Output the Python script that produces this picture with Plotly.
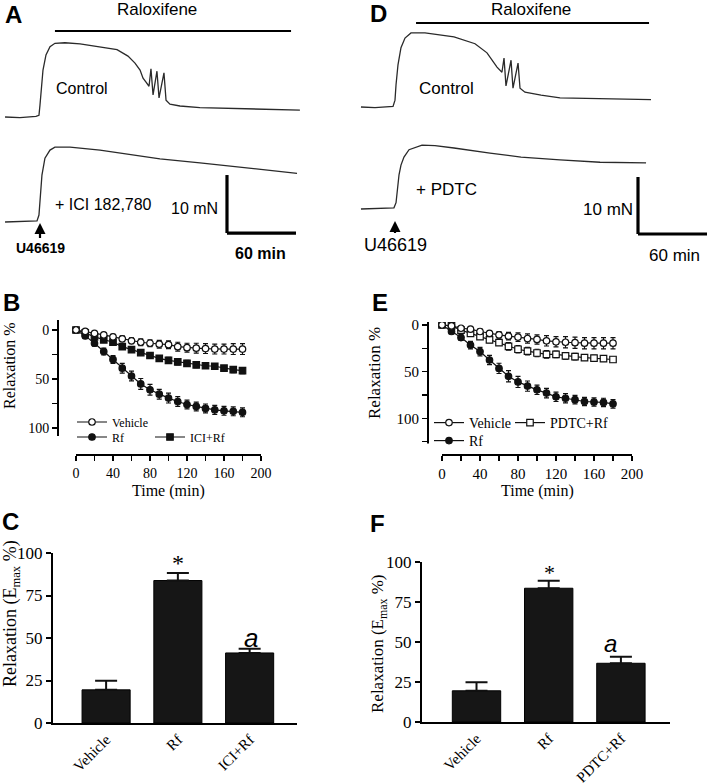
import plotly.graph_objects as go

W, H = 709, 784
def PX(x): return x / W
def PY(y): return 1 - y / H

SERIF = "Liberation Serif"
SANS = "Liberation Sans"
BLACK = "#111111"

# ---------------- Panel A / D : isometric tension recordings ----------------
# time (min, relative to U46619 addition) and tension above baseline (mN)
ctrlA_t = [-30.4, -17.4, -3.5, -0.9, 0, 0.9, 2.6, 5.2, 8.7, 13, 21.7, 34.8, 52.2, 67, 76.5, 82.6,
           87, 89.6, 92.2, 94.8, 96.5, 98.3, 101.7, 103.5, 107.8, 109.6, 113, 121.7, 139, 174, 226]
ctrlA_f = [0, -0.1, 0.1, 0.3, 2.1, 4.7, 8.1, 10.7, 12.1, 12.7, 12.8, 12.6, 12.1, 11.6, 10.5, 9.3,
           8.1, 6.7, 6.0, 5.3, 8.3, 3.8, 7.9, 3.3, 7.6, 2.9, 2.2, 1.9, 1.6, 1.4, 1.2]
iciA_t = [-30.4, -17.4, -2.6, -0.9, 0, 1.7, 4.3, 8.7, 13, 26.1, 52.2, 78.3, 104.3, 139.1, 174, 200, 223.5]
iciA_f = [0, 0.1, 0.2, 1.2, 3.8, 8.1, 11.0, 12.4, 12.9, 12.9, 12.4, 11.7, 10.9, 10.2, 9.5, 9.0, 8.4]

ctrlD_t = [-29.6, -17.4, -1.7, 0, 0.9, 2.6, 5.2, 8.7, 13.9, 26.1, 51.3, 69.6, 80, 85.2, 88.7, 93,
           94.8, 96.5, 100.9, 102.6, 107, 108.7, 113, 127, 143.5, 222.6]
ctrlD_f = [0, -0.1, 0.1, 1.2, 3.9, 7.4, 10.4, 12.1, 13.0, 13.0, 12.3, 11.1, 9.5, 7.9, 7.0, 6.1,
           8.6, 3.7, 8.2, 3.3, 7.7, 3.3, 2.6, 2.1, 1.6, 1.3]
pdtcD_t = [-29.6, -13, -0.9, 0.9, 1.7, 3.5, 5.2, 7.8, 12.2, 18.3, 23.5, 34.8, 51.3, 82.6, 109.6, 143.5, 178.3, 218.3]
pdtcD_f = [0, 0.1, 0.2, 1.1, 2.8, 6.0, 7.7, 9.1, 10.4, 10.9, 11.2, 11.1, 10.7, 9.8, 9.1, 8.6, 8.2, 8.1]

# ---------------- Panel B / E : time course of relaxation ----------------
time_min = [0, 10, 20, 30, 40, 50, 60, 70, 80, 90, 100, 110, 120, 130, 140, 150, 160, 170, 180]

B_veh = [0, 1.5, 3.5, 5, 7, 9, 11, 12.5, 13.5, 14.5, 15, 17, 18, 18.5, 19, 19.5, 19.5, 19.5, 19.5]
B_veh_err = [0, 1, 1.5, 2, 2.5, 3, 3, 3.5, 3.5, 4, 4, 4.5, 4.5, 5, 5, 5, 5, 5.5, 5.5]
B_rf = [0, 6, 13.5, 22, 30, 39, 47, 55, 61, 65.5, 69.5, 73, 76, 78, 80, 81.5, 82.5, 83, 84]
B_rf_err = [0, 1.5, 3, 3.5, 4, 5, 5, 5.5, 5.5, 5, 5, 5, 4.5, 4.5, 4.5, 4.5, 4.5, 4.5, 4.5]
B_ici = [0, 3, 7, 10, 12.5, 17, 20, 23, 26, 29, 31, 32.5, 34, 35.5, 36.5, 37, 39, 40.5, 41.5]
B_ici_err = [0, 1, 1.5, 2, 2, 2.5, 2.5, 2.5, 3, 3, 3, 3, 3, 3, 2.5, 2.5, 2.5, 3, 3]

E_veh = [0, 1, 3.5, 4.5, 7, 9, 10.5, 12, 13, 14.5, 15.5, 17, 18, 18.5, 19, 19.5, 19.5, 19.5, 19.5]
E_veh_err = [0, 1, 1.5, 2, 2.5, 3, 3.5, 4, 4.5, 5, 5, 5.5, 5.5, 6, 6, 6, 6, 6, 6]
E_pdtc = [0, 1, 5.5, 9, 12.5, 16, 19, 23, 26, 28, 30, 31.5, 31.5, 33, 34, 35, 35.5, 36, 37]
E_pdtc_err = [0, 1, 1.5, 2, 2.5, 3, 3, 4, 4, 4, 4, 4, 3.5, 3.5, 3.5, 3, 3, 3, 3]
E_rf = [0, 7, 13.5, 21.5, 28.5, 37.5, 46.5, 55, 61, 65.5, 69.5, 73, 77, 78.5, 80, 82, 82.5, 83, 84.5]
E_rf_err = [0, 1.5, 3, 4, 4.5, 5, 5.5, 6, 6, 5.5, 5, 5, 5, 5, 4.5, 4.5, 4.5, 4.5, 4.5]

# ---------------- Panel C / F : Emax ----------------
C_cats = ["Vehicle", "Rf", "ICI+Rf"]
C_vals = [19.5, 83.8, 41.2]
C_err = [5.3, 4.4, 2.5]
F_cats = ["Vehicle", "Rf", "PDTC+Rf"]
F_vals = [19.5, 83.6, 36.7]
F_err = [5.3, 4.7, 4.1]

time_major = [0, 40, 80, 120, 160, 200]
time_minor = [20, 60, 100, 140, 180]

fig = go.Figure()

trace_line = dict(color="#2a2a2a", width=1.3)
for t, f, xa, ya in [(ctrlA_t, ctrlA_f, "x", "y"), (iciA_t, iciA_f, "x", "y2"),
                     (ctrlD_t, ctrlD_f, "x2", "y3"), (pdtcD_t, pdtcD_f, "x2", "y4")]:
    fig.add_trace(go.Scatter(x=t, y=f, xaxis=xa, yaxis=ya, mode="lines", line=trace_line,
                             showlegend=False, hoverinfo="skip"))

def series(name, y, err, xa, ya, symbol, fill, legend):
    fig.add_trace(go.Scatter(
        x=time_min, y=y, name=name, xaxis=xa, yaxis=ya, mode="lines+markers",
        line=dict(color=BLACK, width=1.2),
        marker=dict(symbol=symbol, size=6.5, color=fill, line=dict(color=BLACK, width=1.2)),
        error_y=dict(type="data", array=err, color=BLACK, thickness=1.2, width=2.5),
        legend=legend, showlegend=True))

series("ICI+Rf", B_ici, B_ici_err, "x3", "y5", "square", BLACK, "legend3")
series("Rf", B_rf, B_rf_err, "x3", "y5", "circle", BLACK, "legend2")
series("Vehicle", B_veh, B_veh_err, "x3", "y5", "circle", "white", "legend")

series("PDTC+Rf", E_pdtc, E_pdtc_err, "x4", "y6", "square", "white", "legend5")
series("Rf", E_rf, E_rf_err, "x4", "y6", "circle", BLACK, "legend6")
series("Vehicle", E_veh, E_veh_err, "x4", "y6", "circle", "white", "legend4")

for cats, vals, err, xa, ya in [(C_cats, C_vals, C_err, "x5", "y7"), (F_cats, F_vals, F_err, "x6", "y8")]:
    fig.add_trace(go.Bar(x=cats, y=vals, xaxis=xa, yaxis=ya, width=0.67,
                         marker=dict(color="#161616", line=dict(color="#000", width=1)),
                         error_y=dict(type="data", symmetric=False, array=err, arrayminus=[0] * len(err),
                                      color=BLACK, thickness=2, width=11),
                         showlegend=False, hoverinfo="skip"))

hidden = dict(visible=False, showgrid=False, zeroline=False, automargin=False)
serif_tick = lambda s: dict(family=SERIF, size=s, color="black")

layout = dict(
    width=W, height=H, margin=dict(l=0, r=0, t=0, b=0, pad=0, autoexpand=False),
    paper_bgcolor="white", plot_bgcolor="rgba(0,0,0,0)", showlegend=True, bargap=0,
    hovermode=False,
    xaxis=dict(domain=[0, PX(354)], range=[-34.78, 273.04], anchor="y", **hidden),
    yaxis=dict(domain=[PY(130), PY(25)], range=[-2.24, 15.86], anchor="x", **hidden),
    yaxis2=dict(domain=[PY(240), PY(140)], range=[-3.10, 14.14], anchor="x", **hidden),
    xaxis2=dict(domain=[PX(354), 1], range=[-35.65, 273.04], anchor="y3", **hidden),
    yaxis3=dict(domain=[PY(125), PY(15)], range=[-3.16, 16.14], anchor="x2", **hidden),
    yaxis4=dict(domain=[PY(245), PY(135)], range=[-6.32, 12.98], anchor="x2", **hidden),
)

tick_common = dict(ticks="outside", ticklen=5, tickwidth=1.5, tickcolor="black")

def time_axes(xdom, xr, ydom, yr, xanchor, yanchor, yt, ym, fs):
    xa = dict(domain=xdom, range=xr, anchor=yanchor, showline=False, zeroline=False, showgrid=False,
              automargin=False, tickmode="array", tickvals=time_major, tickfont=serif_tick(fs),
              minor=dict(tickmode="array", tickvals=time_minor, showgrid=False, **tick_common),
              **tick_common)
    ya = dict(domain=ydom, range=yr, anchor=xanchor, showline=False, zeroline=False, showgrid=False,
              automargin=False, tickmode="array", tickvals=yt, tickfont=serif_tick(fs),
              minor=dict(tickmode="array", tickvals=ym, showgrid=False, **tick_common),
              **tick_common)
    return xa, ya

layout["xaxis3"], layout["yaxis5"] = time_axes([PX(58), PX(261)], [-19.46, 200], [PY(455), PY(320)],
                                                [127.55, -10.2], "x3", "y5", [0, 50, 100], [25, 75], 14)
layout["xaxis4"], layout["yaxis6"] = time_axes([PX(428), PX(632)], [-14.74, 200], [PY(455), PY(322)],
                                                [139.3, -3.2], "x4", "y6", [0, 50, 100], [25, 75, 125], 15)

def bar_axes(xdom, xr, ydom, xanchor, yanchor, fs_x, fs_y):
    xa = dict(domain=xdom, range=xr, anchor=yanchor, showline=True, linecolor="black", linewidth=2,
              ticks="", tickangle=-45, tickfont=serif_tick(fs_x), showgrid=False, zeroline=False,
              automargin=False)
    ya = dict(domain=ydom, range=[0, 100], anchor=xanchor, showline=True, linecolor="black", linewidth=2,
              ticks="outside", ticklen=5, tickwidth=2, tickcolor="black", tickmode="array",
              tickvals=[0, 25, 50, 75, 100], tickfont=serif_tick(fs_y), showgrid=False, zeroline=False,
              automargin=False)
    return xa, ya

layout["xaxis5"], layout["yaxis7"] = bar_axes([PX(53), PX(297)], [-0.74, 2.66], [PY(723), PY(553)], "x5", "y7", 15, 17)
layout["xaxis6"], layout["yaxis8"] = bar_axes([PX(422), PX(670)], [-0.755, 2.68], [PY(722), PY(562)], "x6", "y8", 15, 17)

def leg(x, y, fs):
    return dict(x=PX(x), y=PY(y), xanchor="left", yanchor="middle", bgcolor="rgba(0,0,0,0)",
                borderwidth=0, font=dict(family=SERIF, size=fs, color="black"), itemwidth=30,
                tracegroupgap=0)

layout["legend"] = leg(72, 422, 12)
layout["legend2"] = leg(72, 437, 12)
layout["legend3"] = leg(150, 437, 12)
layout["legend4"] = leg(429, 423, 14)
layout["legend5"] = leg(510, 423, 14)
layout["legend6"] = leg(429, 441, 14)

shapes = []
def pline(x0, y0, x1, y1, w=2):
    shapes.append(dict(type="line", xref="paper", yref="paper", x0=PX(x0), y0=PY(y0), x1=PX(x1), y1=PY(y1),
                       line=dict(color="black", width=w)))

# detached axis lines for B and E
pline(58, 320, 58, 436)
pline(76, 455, 261, 455)
pline(428, 322, 428, 443.5)
pline(442, 455, 632, 455)

def dline(xr, yr, x0, y0, x1, y1, w):
    shapes.append(dict(type="line", xref=xr, yref=yr, x0=x0, y0=y0, x1=x1, y1=y1,
                       line=dict(color="black", width=w)))

# Raloxifene application bars
dline("x", "y", 13.0, 14.83, 218.3, 14.83, 2.2)
dline("x2", "y3", 18.3, 14.74, 220.9, 14.74, 2.2)
# scale bars: 10 mN / 60 min
dline("x", "y2", 162.6, 8.10, 162.6, -1.90, 3.2)
dline("x", "y2", 162.6, -1.90, 222.6, -1.90, 3.2)
dline("x2", "y4", 211.3, 5.61, 211.3, -4.39, 3.2)
dline("x2", "y4", 211.3, -4.39, 271.3, -4.39, 3.2)
layout["shapes"] = shapes

ann = []
def text(x, y, s, size, family=SANS, bold=False, italic=False, angle=0, xanchor="center", color="black"):
    if bold:
        s = "<b>" + s + "</b>"
    if italic:
        s = "<i>" + s + "</i>"
    ann.append(dict(x=PX(x), y=PY(y), xref="paper", yref="paper", text=s, showarrow=False,
                    font=dict(family=family, size=size, color=color), textangle=angle,
                    xanchor=xanchor, yanchor="middle"))

# panel letters
for L, x, y in [("A", 13, 14), ("B", 11, 302), ("C", 10, 521), ("D", 379, 13), ("E", 380, 302), ("F", 378, 523)]:
    text(x, y, L, 24, bold=True)

text(157, 10, "Raloxifene", 17)
text(531, 10, "Raloxifene", 17)
text(82, 89, "Control", 16)
text(446, 88, "Control", 17)
text(103, 204, "+ ICI 182,780", 16)
text(446, 189, "+ PDTC", 17)
text(220, 208, "10 mN", 16, xanchor="right")
text(635, 210, "10 mN", 17, xanchor="right")
text(260, 253, "60 min", 16, bold=True)
text(674, 256, "60 min", 17)

# U46619 arrows
ann.append(dict(x=0, y=PY(223), xref="x", yref="paper", ax=0, ay=15, text="<b>U46619</b>",
                showarrow=True, arrowhead=2, arrowsize=1, arrowwidth=2.2, arrowcolor="black",
                xanchor="center", yanchor="top", font=dict(family=SANS, size=14, color="black")))
ann.append(dict(x=0, y=PY(221), xref="x2", yref="paper", ax=0, ay=12, text="U46619",
                showarrow=True, arrowhead=2, arrowsize=1, arrowwidth=2.2, arrowcolor="black",
                xanchor="center", yanchor="top", font=dict(family=SANS, size=18, color="black")))

# axis titles
text(9, 366, "Relaxation %", 16, family=SERIF, angle=-90)
text(168, 491, "Time (min)", 16, family=SERIF)
text(375, 373, "Relaxation %", 17, family=SERIF, angle=-90)
text(537, 491, "Time (min)", 16, family=SERIF)
text(11, 614, "Relaxation (E<sub>max</sub> %)", 18, family=SERIF, angle=-90)
text(379, 643, "Relaxation (E<sub>max</sub> %)", 17, family=SERIF, angle=-90)

# significance marks
text(177.5, 563, "*", 24, family=SERIF)
text(251, 638, "a", 26, italic=True)
text(549, 572, "*", 22, family=SERIF)
text(610, 643, "a", 24, italic=True)

layout["annotations"] = ann
fig.update_layout(**layout)
fig.write_html("out.html",
               config={"displayModeBar": False, "staticPlot": True},
               post_script="document.body.style.margin='0';document.body.style.overflow='hidden';")
